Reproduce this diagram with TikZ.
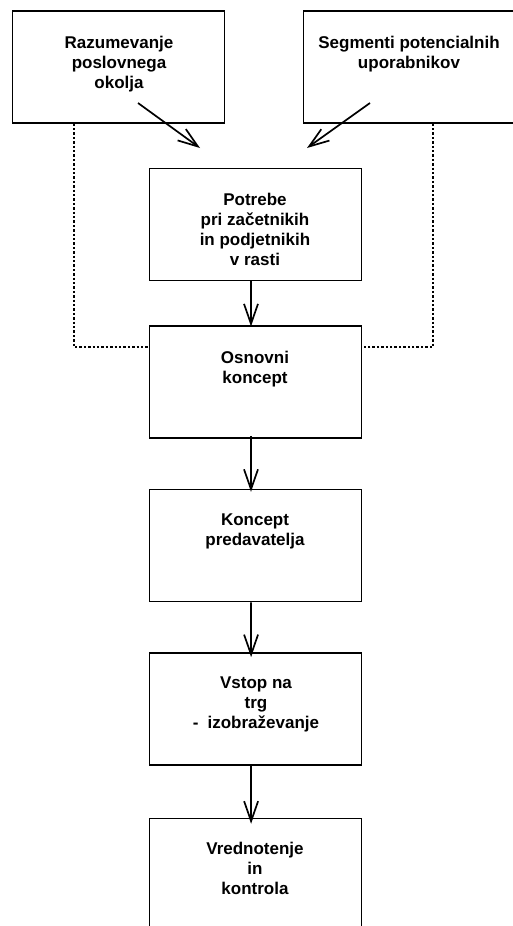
\documentclass[tikz,border=0pt]{standalone}
\usepackage{fontspec}
\setmainfont{Liberation Sans}
\usetikzlibrary{arrows.meta,calc}
\begin{document}
\begin{tikzpicture}[x=1pt,y=-1pt,
  boxnode/.style={draw=black,line width=1.5pt,minimum width=212pt,minimum height=112pt,inner sep=0pt},
  txt/.style={anchor=north,inner sep=0pt,align=center,font=\fontsize{17}{20}\selectfont\bfseries},
  flow/.style={line width=1.7pt,-{Straight Barb[length=20pt,width=14pt,line width=1.7pt]}},
  dotline/.style={line width=1.7pt,dash pattern=on 2.4pt off 2pt}]
\useasboundingbox (0,0) rectangle (513,926);
\clip (0,0) rectangle (513,926);
\fill[white] (0,0) rectangle (513,926);
% boxes
\node[boxnode] (b1) at (118.3,66.9) {};
\node[boxnode] (b2) at (409.4,66.9) {};
\node[boxnode] (b3) at (255.5,224.5) {};
\node[boxnode] (b4) at (255.5,382.2) {};
\node[boxnode] (b5) at (255.5,545.6) {};
\node[boxnode] (b6) at (255.6,708.9) {};
\node[boxnode] (b7) at (255.6,874.5) {};
% texts
\node[txt] (t1) at (119,36) {Razumevanje\\poslovnega\\okolja};
\node[txt] (t2) at (409,36) {Segmenti potencialnih\\uporabnikov};
\node[txt] (t3) at (255,193) {Potrebe\\pri začetnikih\\in podjetnikih\\v rasti};
\node[txt] (t4) at (255,351) {Osnovni\\koncept};
\node[txt] (t5) at (255,514) {Koncept\\predavatelja};
\node[txt] (t6) at (256,677) {Vstop na\\trg\\-\hspace{9pt}izobraževanje};
\node[txt] (t7) at (255,842) {Vrednotenje\\in\\kontrola};
% diagonal arrows
\coordinate (a1s) at (138,103);
\coordinate (a1e) at (200,148);
\coordinate (a2s) at (370,103);
\coordinate (a2e) at (307,148);
\draw[flow] (a1s) -- (a1e);
\draw[flow] (a2s) -- (a2e);
% vertical arrows
\draw[flow] ([xshift=-4.5pt]b3.south) -- ([xshift=-4.5pt,yshift=-1pt]b4.north);
\draw[flow] ([xshift=-4.5pt,yshift=3pt]b4.south) -- ([xshift=-4.5pt,yshift=-3pt]b5.north);
\draw[flow] ([xshift=-4.5pt]b5.south) -- ([xshift=-4.5pt,yshift=-5pt]b6.north);
\draw[flow] ([xshift=-4.5pt]b6.south) -- ([xshift=-4.5pt,yshift=-6pt]b7.north);
% dotted connections
\coordinate (dl) at (74,347);
\coordinate (dr) at (433,347);
\draw[dotline] (b1.south -| dl) -- (dl) -- (dl -| b4.west);
\draw[dotline] (b2.south -| dr) -- (dr) -- (dr -| b4.east);
\end{tikzpicture}
\end{document}
